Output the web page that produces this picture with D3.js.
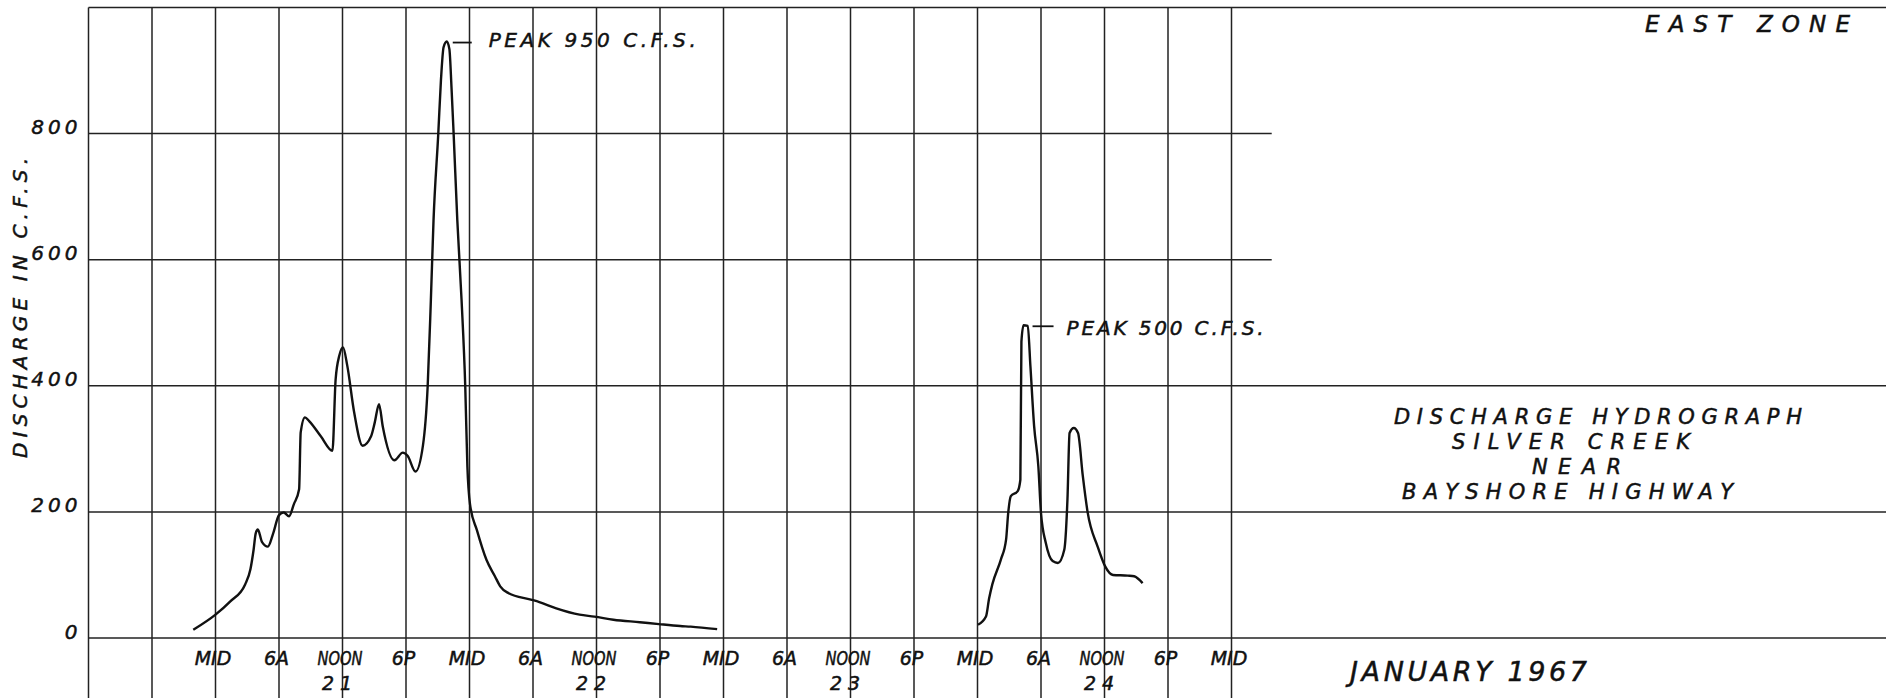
<!DOCTYPE html>
<html>
<head>
<meta charset="utf-8">
<script src="https://cdn.jsdelivr.net/npm/d3@7"></script>
<style>
  body { margin: 0; background: #fff; }
  text { font-family: "DejaVu Sans", sans-serif; font-style: italic; fill: #111; stroke: #111; stroke-width: 0.5px; }
</style>
</head>
<body>
<div id="chart"></div>
<script>
// hours after midnight, Jan 21 1967 -> discharge in c.f.s.
const storm1Hours = [-2.1, 0, 1.4, 2.8, 3.3, 3.6, 3.8, 4.0, 4.4, 4.95, 5.45, 6.0, 6.45, 6.95, 7.4, 7.9, 8.05, 8.45, 8.85, 9.95,
    11.05, 11.35, 11.7, 12.05, 12.45, 13.1, 13.9, 14.7, 15.05, 15.45, 15.8, 16.9, 17.7, 18.15, 18.9, 19.6, 20.05, 20.35, 20.6,
    21.05, 21.3, 21.55, 21.85, 22.1, 22.3, 22.5, 22.85, 23.25, 23.6, 23.8, 24.05, 24.7, 25.6, 26.4, 26.9, 27.7, 29.8, 30.6,
    32.2, 34.4, 35.8, 37.6, 40.1, 41.9, 43.9, 44.9, 47.4]
const storm1Cfs = [13, 37, 58, 85, 109, 140, 166, 172, 152, 145, 166, 195, 199, 193, 212, 236, 326, 350, 344, 320,
    297, 410, 448, 461, 432, 358, 305, 320, 342, 371, 336, 282, 294, 289, 264, 305, 400, 536, 662,
    800, 884, 937, 946, 934, 873, 800, 662, 536, 398, 272, 212, 171, 124, 98, 82, 71, 61, 57,
    47, 37, 34, 29, 25, 22, 19, 18, 14]
const storm2Hours = [72.05, 72.8, 73.1, 73.4, 74.2, 74.7, 74.9, 75.15, 75.8, 76.05, 76.15, 76.35, 76.75, 77.0, 77.35, 77.75,
    78.0, 78.45, 79.1, 79.6, 80.2, 80.5, 80.7, 81.1, 81.5, 81.95, 82.4, 83.35, 84.05, 84.8, 86.2, 86.8, 87.6]
const storm2Cfs = [21, 34, 63, 85, 124, 156, 198, 225, 233, 251, 470, 496, 495, 431, 336, 272,
    198, 151, 122, 119, 140, 220, 325, 333, 325, 257, 200, 145, 114, 100, 99, 98, 87]

const yTicks = [0, 200, 400, 600, 800]
const gridHours = [-12, -6, 0, 6, 12, 18, 24, 30, 36, 42, 48, 54, 60, 66, 72, 78, 84, 90, 96]
const timeTickHours = [0, 6, 12, 18, 24, 30, 36, 42, 48, 54, 60, 66, 72, 78, 84, 90, 96]
const timeLabels = ['MID', '6A', 'NOON', '6P', 'MID', '6A', 'NOON', '6P', 'MID', '6A', 'NOON', '6P', 'MID', '6A', 'NOON', '6P', 'MID']
const dayTickHours = [12, 36, 60, 84]
const dayLabels = ['21', '22', '23', '24']

const W = 1886, H = 698
let svg = d3.select('#chart').append('svg')
    .attr('width', W).attr('height', H)
    .style('background', '#fff')

let x = d3.scaleLinear().domain([-12, 96]).range([88.5, 1231.5])
let y = d3.scaleLinear().domain([0, 1000]).range([638, 7.5])

// grid
let grid = svg.append('g').attr('stroke', '#222').attr('stroke-width', 1.5)
grid.selectAll('line.v')
    .data(gridHours)
    .enter().append('line')
    .attr('x1', d => x(d)).attr('x2', d => x(d))
    .attr('y1', y(1000)).attr('y2', H)

grid.selectAll('line.h')
    .data([1000, 800, 600, 400, 200, 0])
    .enter().append('line')
    .attr('x1', x(-12))
    .attr('x2', d => (d == 800 || d == 600) ? x(99.8) : W)
    .attr('y1', d => y(d)).attr('y2', d => y(d))

// y axis labels
let yAxis = svg.append('g')
    .attr('transform', `translate(${x(-12)},0)`)
    .call(d3.axisLeft(y).tickValues(yTicks).tickSize(0).tickPadding(7))
yAxis.select('.domain').remove()
yAxis.selectAll('text')
    .attr('dy', 0)
    .style('font-size', '20px')
    .style('letter-spacing', '4px')

// x axis labels, two rows
let xAxis = svg.append('g')
    .attr('transform', `translate(-3,${y(0)})`)
    .call(d3.axisBottom(x).tickValues(timeTickHours).tickSize(0).tickFormat((d, i) => timeLabels[i]))
xAxis.select('.domain').remove()
xAxis.selectAll('text')
    .attr('y', 27).attr('dy', 0)
    .style('font-size', '19px')
    .each(function () {
        if (this.getComputedTextLength() > 45)
            d3.select(this).attr('textLength', 45).attr('lengthAdjust', 'spacingAndGlyphs')
    })

let dayAxis = svg.append('g')
    .attr('transform', `translate(-3,${y(0)})`)
    .call(d3.axisBottom(x).tickValues(dayTickHours).tickSize(0).tickFormat((d, i) => dayLabels[i]))
dayAxis.select('.domain').remove()
dayAxis.selectAll('text')
    .attr('y', 52).attr('dy', 0)
    .style('font-size', '19px')
    .style('letter-spacing', '6px')

// y axis title, written from the bottom up
svg.append('text')
    .attr('transform', 'translate(27,458) rotate(-90)')
    .attr('text-anchor', 'start')
    .style('font-size', '20px')
    .attr('textLength', 300).attr('lengthAdjust', 'spacing')
    .text('DISCHARGE IN C.F.S.')

// hydrograph curves
let makeLine = d3.line()
    .x(d => x(d[0]))
    .y(d => y(d[1]))
    .curve(d3.curveMonotoneX)

;[[storm1Hours, storm1Cfs], [storm2Hours, storm2Cfs]].forEach(([hrs, cfs]) => {
    svg.append('path')
        .attr('d', makeLine(d3.zip(hrs, cfs)))
        .attr('fill', 'none')
        .attr('stroke', '#111')
        .attr('stroke-width', 2.4)
        .attr('stroke-linejoin', 'round')
})

// peak notes
let peaks = [
    {h: 21.85, v: 946, label: 'PEAK 950 C.F.S.', lead: [6, 25], tx: 42, ty: 5, len: 207},
    {h: 76.35, v: 496, label: 'PEAK 500 C.F.S.', lead: [9, 30], tx: 43, ty: 9.5, len: 197}
]
peaks.forEach(p => {
    let px = x(p.h), py = y(p.v)
    svg.append('line')
        .attr('x1', px + p.lead[0]).attr('x2', px + p.lead[1])
        .attr('y1', py + 1).attr('y2', py + 1)
        .attr('stroke', '#111').attr('stroke-width', 1.8)
    svg.append('text')
        .attr('x', px + p.tx).attr('y', py + p.ty)
        .style('font-size', '20px')
        .attr('textLength', p.len).attr('lengthAdjust', 'spacing')
        .text(p.label)
})

// title block
let notes = [
    {t: 'EAST ZONE', x: 1645, y: 32, size: 23, len: 205},
    {t: 'DISCHARGE HYDROGRAPH', x: 1394, y: 424, size: 21, len: 408},
    {t: 'SILVER CREEK', x: 1452, y: 449, size: 21, len: 238},
    {t: 'NEAR', x: 1532, y: 474, size: 21, len: 89},
    {t: 'BAYSHORE HIGHWAY', x: 1402, y: 499, size: 21, len: 331},
    {t: 'JANUARY 1967', x: 1350, y: 681, size: 27, len: 237}
]
notes.forEach(n => {
    svg.append('text')
        .attr('x', n.x).attr('y', n.y)
        .style('font-size', n.size + 'px')
        .attr('textLength', n.len).attr('lengthAdjust', 'spacing')
        .text(n.t)
})
</script>
</body>
</html>
